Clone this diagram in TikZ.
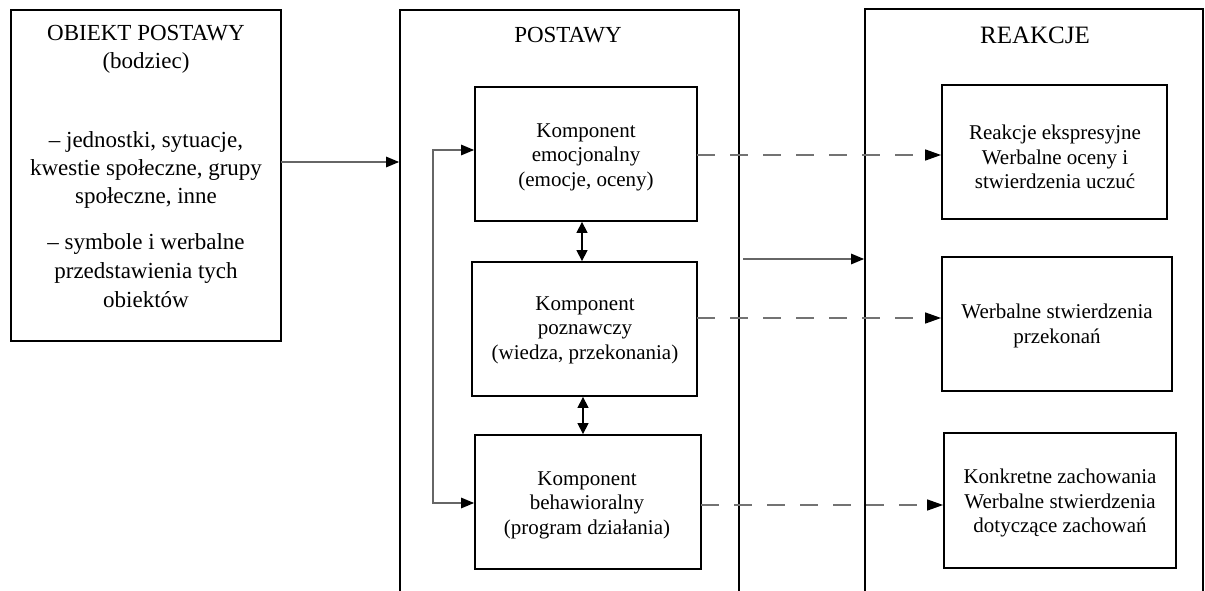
\documentclass[tikz,border=0pt]{standalone}
\usepackage{fontspec}
\setmainfont{Liberation Serif}
\usetikzlibrary{arrows.meta}
\begin{document}
\begin{tikzpicture}[x=1pt,y=-1pt,
  box/.style={draw=black,line width=1.8pt,rectangle,inner sep=0pt},
  txt/.style={inner sep=0pt,align=center,text=black},
  big/.style={txt,font=\fontsize{23}{28}\selectfont},
  mid/.style={txt,font=\fontsize{21}{24.5}\selectfont},
  conn/.style={draw=black!60,line width=1.3pt,-{Triangle[length=13pt,width=10.5pt,color=black]}},
  link/.style={draw=black,line width=1.3pt,{Triangle[length=11pt,width=11pt]}-{Triangle[length=11pt,width=11pt]}},
  loop/.style={draw=black!60,line width=1.3pt,{Triangle[length=13pt,width=10.5pt,color=black]}-{Triangle[length=13pt,width=10.5pt,color=black]}},
  resp/.style={draw=black!55,line width=1.4pt,dash pattern=on 18pt off 15pt,dash phase=0pt,
    -{Triangle[length=16pt,width=11pt,color=black]}}]
\useasboundingbox (0,0) rectangle (1205,591);
\clip (0,0) rectangle (1205,591);
\fill[white] (0,0) rectangle (1205,591);

% outer frames (open at the bottom of the page)
\node[box,minimum width=270pt,minimum height=331pt] (obj) at (146,175.5) {};
\node[box,minimum width=339pt,minimum height=620pt] (post) at (569.5,320) {};
\node[box,minimum width=338pt,minimum height=620pt] (reak) at (1034,319) {};

% frame titles and object description
\node[big] (objt) at (146,49) {OBIEKT POSTAWY\\(bodziec)};
\node[big] (objp1) at (146,170) {– jednostki, sytuacje,\\kwestie społeczne, grupy\\społeczne, inne};
\node[big,font=\fontsize{23}{29}\selectfont] (objp2) at (146,271) {– symbole i werbalne\\przedstawienia tych\\obiektów};
\node[big] (postt) at (568,35) {POSTAWY};
\node[big,font=\fontsize{25}{28}\selectfont] (reakt) at (1035,35) {REAKCJE};

% attitude components
\node[box,minimum width=222pt,minimum height=134pt] (emo) at (586,154) {};
\node[box,minimum width=225pt,minimum height=134pt] (poz) at (584.5,329) {};
\node[box,minimum width=226pt,minimum height=134pt] (beh) at (588,502) {};
\node[mid] (emot) at (586,157) {Komponent\\emocjonalny\\(emocje, oceny)};
\node[mid] (pozt) at (585,330) {Komponent\\poznawczy\\(wiedza, przekonania)};
\node[mid] (beht) at (587,505) {Komponent\\behawioralny\\(program działania)};

% reactions
\node[box,minimum width=225pt,minimum height=134pt] (r1) at (1054.5,152) {};
\node[box,minimum width=230pt,minimum height=134pt] (r2) at (1057,324) {};
\node[box,minimum width=232pt,minimum height=135pt] (r3) at (1060,500.5) {};
\node[mid] (r1t) at (1055,157) {Reakcje ekspresyjne\\Werbalne oceny i\\stwierdzenia uczuć};
\node[mid] (r2t) at (1057,326) {Werbalne stwierdzenia\\przekonań};
\node[mid] (r3t) at (1060,503) {Konkretne zachowania\\Werbalne stwierdzenia\\dotyczące zachowań};

% connector anchor points
\coordinate (a1) at (281,162);
\coordinate (a2) at (743,259);
\coordinate (d1) at (697,155);
\coordinate (d2) at (697,318);
\coordinate (d3) at (701,505);
\coordinate (l1) at (582,0);
\coordinate (l2) at (583,0);

% object -> attitudes, attitudes -> reactions
\draw[conn] (a1) -- (a1 -| post.west);
\draw[conn] (a2) -- (a2 -| reak.west);

% links between components
\draw[link] (emo.south -| l1) -- (poz.north -| l1);
\draw[link] (poz.south -| l2) -- (beh.north -| l2);
\draw[loop] ([yshift=4pt]emo.west) -- ++(-41,0) |- ([yshift=-1pt]beh.west);

% components -> reactions
\draw[resp] (d1) -- (d1 -| r1.west);
\draw[resp] (d2) -- (d2 -| r2.west);
\draw[resp] (d3) -- (d3 -| r3.west);
\end{tikzpicture}
\end{document}
